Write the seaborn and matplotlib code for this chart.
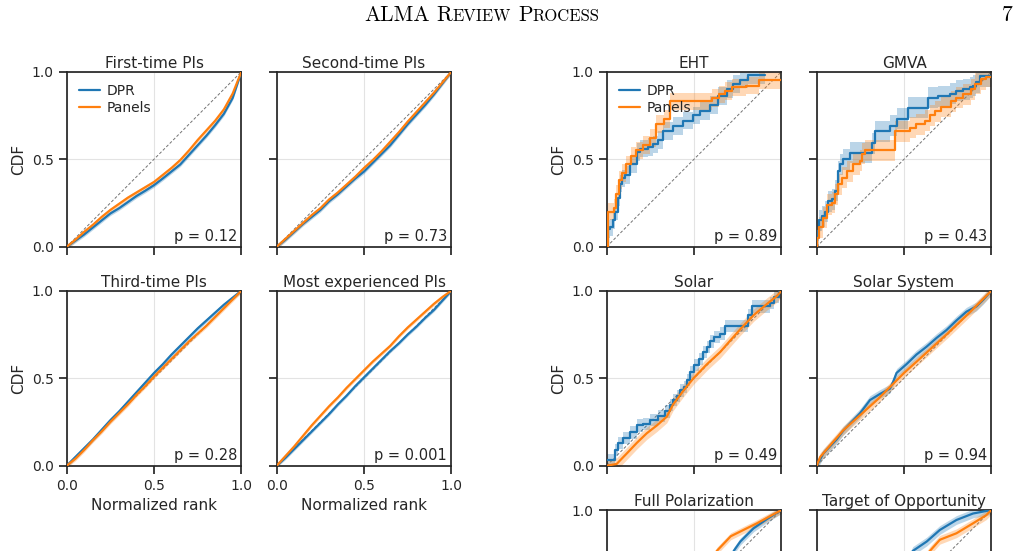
import numpy as np
import pandas as pd
import matplotlib
matplotlib.use("Agg")
import matplotlib.pyplot as plt
import seaborn as sns

# ---- data ----
RANK = [0.0, 0.05, 0.1, 0.15, 0.2, 0.25, 0.3, 0.35, 0.4, 0.45, 0.5,
        0.55, 0.6, 0.65, 0.7, 0.75, 0.8, 0.85, 0.9, 0.95, 1.0]

FIRST_DPR = [0, .035, .07, .11, .15, .19, .22, .255, .29, .32, .352,
             .39, .43, .47, .525, .58, .635, .695, .76, .85, 1.0]
FIRST_PAN = [0, .04, .085, .125, .17, .21, .245, .28, .31, .34, .37,
             .41, .45, .495, .55, .61, .665, .72, .785, .875, 1.0]
SECOND_DPR = [0, .04, .085, .13, .17, .21, .26, .30, .345, .39, .43,
              .48, .53, .58, .64, .70, .755, .81, .87, .935, 1.0]
SECOND_PAN = [0, .045, .09, .135, .18, .22, .27, .31, .355, .40, .45,
              .495, .545, .60, .655, .715, .77, .825, .88, .94, 1.0]
THIRD_DPR = [0, .05, .10, .15, .205, .26, .31, .365, .42, .475, .53,
             .58, .635, .685, .735, .785, .83, .875, .92, .96, 1.0]
THIRD_PAN = [0, .04, .09, .145, .195, .25, .30, .35, .405, .455, .51,
             .56, .61, .66, .71, .755, .80, .85, .90, .95, 1.0]
MOST_DPR = [0, .045, .095, .145, .195, .245, .295, .35, .40, .455, .505,
            .555, .605, .655, .70, .75, .795, .845, .89, .945, 1.0]
MOST_PAN = [0, .055, .11, .17, .23, .285, .34, .39, .445, .495, .545,
            .595, .64, .685, .74, .79, .835, .88, .925, .965, 1.0]

EHT_DPR_X = [0, .005, .019, .038, .048, .062, .076, .09, .105, .133, .171, .19, .238, .267,
             .295, .324, .381, .438, .495, .533, .59, .638, .686, .724, .762, .81, .905]
EHT_DPR_Y = [0, .10, .11, .15, .20, .28, .36, .39, .41, .47, .54, .56, .57, .585,
             .61, .66, .69, .72, .75, .775, .81, .86, .90, .93, .955, .98, .98]
EHT_PAN_X = [0, .005, .04, .055, .07, .09, .11, .14, .17, .21, .25, .28, .33, .36,
             .60, .64, .68, .72, .80, .87, 1.0]
EHT_PAN_Y = [0, .20, .22, .30, .38, .42, .47, .52, .55, .58, .62, .70, .73, .83,
             .85, .87, .89, .91, .92, .95, .95]

GMVA_DPR_X = [0, .002, .015, .029, .048, .067, .086, .105, .124, .133, .152, .19, .314, .333,
              .419, .457, .524, .638, .695, .762, .80, .838, .876, .895, .914, .933, 1.0]
GMVA_DPR_Y = [0, .09, .15, .175, .20, .26, .27, .32, .43, .47, .50, .537, .59, .66,
              .69, .73, .794, .85, .86, .875, .89, .90, .91, .92, .94, .975, .975]
GMVA_PAN_X = [0, .002, .015, .038, .057, .086, .105, .124, .143, .171, .21, .248, .257, .276,
              .448, .533, .571, .619, .648, .676, .714, .771, .80, .838, .886, .905, .943, .971, 1.0]
GMVA_PAN_Y = [0, .05, .11, .165, .24, .25, .30, .356, .394, .43, .47, .49, .53, .55,
              .66, .68, .70, .72, .75, .775, .80, .83, .85, .87, .90, .93, .956, .97, .97]

SOLAR_DPR_X = [0, .048, .067, .096, .134, .172, .21, .249, .296, .335, .363, .382, .402, .42, .44,
               .459, .478, .497, .526, .554, .574, .593, .612, .65, .679, .81, .83, .937, .956, .985, 1.0]
SOLAR_DPR_Y = [.03, .09, .13, .16, .19, .23, .24, .26, .285, .31, .345, .375, .40, .43, .45,
               .49, .536, .576, .61, .65, .68, .71, .735, .755, .80, .86, .91, .93, .966, .99, 1.0]
SOLAR_PAN_X = [0, .057, .115, .172, .229, .287, .344, .38, .44, .497, .574, .65, .707,
               .765, .841, .918, .975, 1.0]
SOLAR_PAN_Y = [0, .01, .07, .13, .185, .23, .28, .35, .43, .50, .58, .65, .715,
               .78, .86, .925, .97, 1.0]

SSYS_DPR_X = [0, .038, .076, .114, .152, .19, .248, .305, .362, .419, .438, .457, .514, .571,
              .629, .686, .743, .80, .857, .914, .952, 1.0]
SSYS_DPR_Y = [0, .07, .11, .15, .20, .24, .30, .375, .41, .44, .48, .53, .58, .635,
              .68, .73, .775, .83, .88, .91, .947, 1.0]
SSYS_PAN_X = [0, .02, .08, .15, .25, .35, .44, .50, .60, .75, .88, 1.0]
SSYS_PAN_Y = [0, .05, .12, .20, .29, .38, .47, .53, .62, .756, .88, 1.0]

FPOL_DPR_X = [0, .1, .2, .3, .4, .5, .6, .7, .727, .765, .84, .92, 1.0]
FPOL_DPR_Y = [0, .06, .13, .21, .30, .40, .52, .70, .766, .82, .895, .95, 1.0]
FPOL_PAN_X = [0, .1, .2, .3, .4, .5, .55, .63, .71, .86, 1.0]
FPOL_PAN_Y = [0, .08, .17, .27, .38, .50, .60, .766, .85, .924, 1.0]

TOO_DPR_X = [0, .1, .2, .3, .4, .5, .55, .63, .705, .8, .895, 1.0]
TOO_DPR_Y = [0, .12, .25, .38, .52, .66, .766, .82, .886, .943, .98, 1.0]
TOO_PAN_X = [0, .1, .2, .3, .4, .5, .648, .705, .8, .895, .97, 1.0]
TOO_PAN_Y = [0, .10, .21, .32, .43, .55, .766, .83, .867, .924, .97, 1.0]

TITLES = ["First-time PIs", "Second-time PIs", "Third-time PIs", "Most experienced PIs",
          "EHT", "GMVA", "Solar", "Solar System", "Full Polarization", "Target of Opportunity"]
P_VALUES = ["0.12", "0.73", "0.28", "0.001", "0.89", "0.43", "0.49", "0.94", None, None]
BAND = [0.012, 0.012, 0.012, 0.01, 0.05, 0.06, 0.035, 0.025, 0.02, 0.025]

DPR_COLOR = "#1f77b4"
PAN_COLOR = "#ff7f0e"

# (dpr x, dpr y, dpr step?), (panels x, panels y, panels step?)
SERIES = [
    ((RANK, FIRST_DPR, False), (RANK, FIRST_PAN, False)),
    ((RANK, SECOND_DPR, False), (RANK, SECOND_PAN, False)),
    ((RANK, THIRD_DPR, False), (RANK, THIRD_PAN, False)),
    ((RANK, MOST_DPR, False), (RANK, MOST_PAN, False)),
    ((EHT_DPR_X, EHT_DPR_Y, True), (EHT_PAN_X, EHT_PAN_Y, True)),
    ((GMVA_DPR_X, GMVA_DPR_Y, True), (GMVA_PAN_X, GMVA_PAN_Y, True)),
    ((SOLAR_DPR_X, SOLAR_DPR_Y, True), (SOLAR_PAN_X, SOLAR_PAN_Y, False)),
    ((SSYS_DPR_X, SSYS_DPR_Y, False), (SSYS_PAN_X, SSYS_PAN_Y, False)),
    ((FPOL_DPR_X, FPOL_DPR_Y, False), (FPOL_PAN_X, FPOL_PAN_Y, False)),
    ((TOO_DPR_X, TOO_DPR_Y, False), (TOO_PAN_X, TOO_PAN_Y, False)),
]

sns.set_theme(style="ticks", rc={
    "axes.edgecolor": "#262626",
    "axes.linewidth": 1.25,
    "xtick.major.size": 6, "ytick.major.size": 6,
    "xtick.major.width": 1.25, "ytick.major.width": 1.25,
    "xtick.labelsize": 10, "ytick.labelsize": 10,
    "axes.labelsize": 11, "axes.titlesize": 11,
    "axes.titlepad": 3,
    "text.color": "#262626", "axes.labelcolor": "#262626",
    "xtick.color": "#262626", "ytick.color": "#262626",
})
plt.rcParams["font.family"] = ["DejaVu Sans"]

W, H = 1022, 551
fig = plt.figure(figsize=(W / 100, H / 100), dpi=100)

LEFTS = [66.7 / W, 276.7 / W, 606.7 / W, 816.7 / W]
BOTTOMS = [1 - 246.7 / H, 1 - 465.7 / H, 1 - 685 / H]
AW, AH = 174.7 / W, 175 / H

# (column, row) for each panel
GRID = [(0, 0), (1, 0), (0, 1), (1, 1),
        (2, 0), (3, 0), (2, 1), (3, 1), (2, 2), (3, 2)]

for i, title in enumerate(TITLES):
    col, row = GRID[i]
    ax = fig.add_axes([LEFTS[col], BOTTOMS[row], AW, AH])
    ax.plot([0, 1], [0, 1], ls=(0, (3, 2)), color="0.45", lw=0.7, zorder=1)

    for (x, y, step), name, color in zip(SERIES[i], ["DPR", "Panels"], [DPR_COLOR, PAN_COLOR]):
        x = np.asarray(x)
        y = np.asarray(y)
        ax.fill_between(x, y - BAND[i], y + BAND[i], step="post" if step else None,
                        color=color, alpha=0.3, lw=0, zorder=2)
        sns.lineplot(x=x, y=y, ax=ax, color=color, lw=1.6, label=name,
                     estimator=None, drawstyle="steps-post" if step else "default",
                     zorder=3)

    ax.set_xlim(0, 1)
    ax.set_ylim(0, 1)
    ax.set_xticks([0, 0.5, 1])
    ax.set_yticks([0, 0.5, 1])
    ax.set_xticklabels(["0.0", "0.5", "1.0"])
    if row == 2:
        # only the top of this row is on the page
        ax.set_yticklabels(["", "", "1.0"])
    else:
        ax.set_yticklabels(["0.0", "0.5", "1.0"])
    ax.grid(True, color="#e3e3e3", lw=0.8)
    ax.set_axisbelow(True)
    for s in ax.spines.values():
        s.set_visible(True)
    ax.set_title(title)
    ax.set_xlabel("")
    ax.set_ylabel("")

    if col in (0, 2):
        if row < 2:
            ax.set_ylabel("CDF")
    else:
        ax.tick_params(axis="y", labelleft=False)
    if col < 2 and row == 1:
        ax.set_xlabel("Normalized rank")
    else:
        ax.tick_params(axis="x", labelbottom=False)

    if P_VALUES[i] is not None:
        ax.text(0.975, 0.015, f"p = {P_VALUES[i]}", transform=ax.transAxes,
                ha="right", va="bottom", fontsize=10.5, color="#262626")

    leg = ax.get_legend()
    if leg is not None:
        leg.remove()
    if i in (0, 4):
        ax.legend(loc="upper left", frameon=False, fontsize=10, handlelength=1.5,
                  handletextpad=0.5, labelspacing=0.2)

# running header in small caps
renderer = fig.canvas.get_renderer()
BIG, SMALL = 15.5, 12
pieces = [("ALMA", BIG, True), ("R", BIG, False), ("EVIEW", SMALL, True),
          ("P", BIG, False), ("ROCESS", SMALL, False)]
xpos = 364.0
base = 1 - 21 / H
for txt, size, space in pieces:
    t = fig.text(xpos / W, base, txt, fontsize=size, family="cmr10",
                 va="baseline", ha="left", color="black")
    xpos += t.get_window_extent(renderer).width
    if space:
        xpos += 0.33 * BIG * 100 / 72
fig.text(1013 / W, base, "7", fontsize=BIG, family="cmr10", va="baseline",
         ha="right", color="black")

fig.savefig("out.png", dpi=100)
